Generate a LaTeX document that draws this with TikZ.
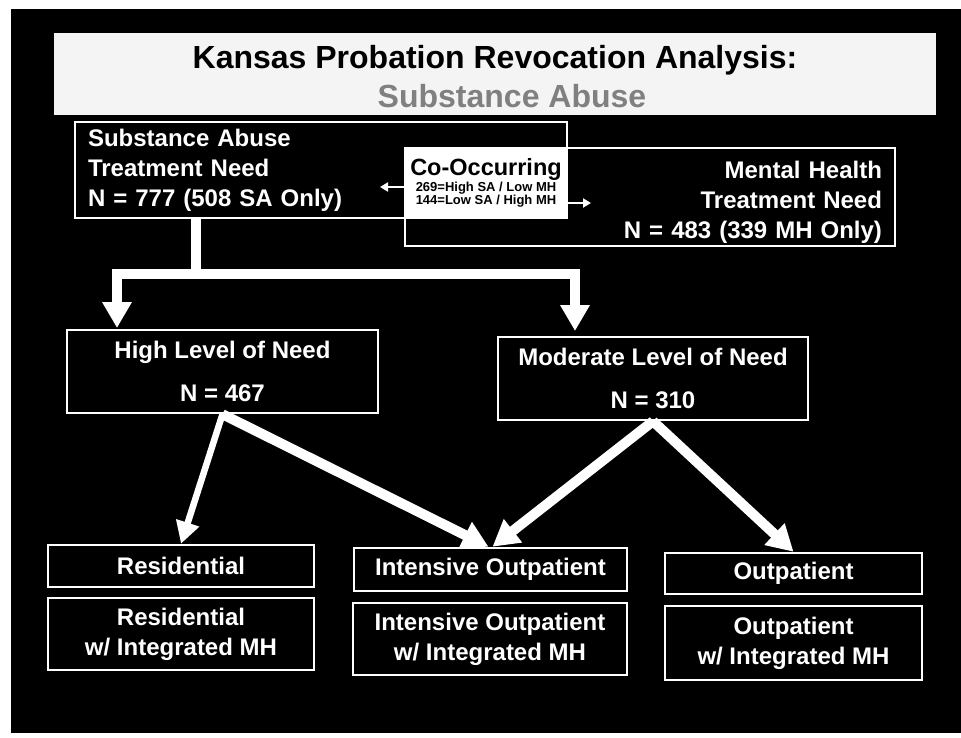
\documentclass[tikz,border=0pt]{standalone}
\usepackage{fontspec}
\setmainfont{Liberation Sans}
\usepackage{xcolor}
\usetikzlibrary{arrows.meta}

\definecolor{titlebg}{RGB}{244,244,244}
\definecolor{subgray}{RGB}{128,128,128}

\begin{document}
\begin{tikzpicture}[
            x = 1pt, y = -1pt, % pixel units, y going down
            > = {Triangle[width=28pt,length=26pt]}, % arrow head style
            box/.style = {draw=white, line width=2.5pt, text=white, inner sep=0pt,
                font=\fontsize{24}{30}\selectfont\bfseries},
            fat/.style = {draw=white, line width=10pt},
            slim/.style = {draw=white, line width=6.5pt},
            tiny/.style = {draw=white, line width=2.5pt}
        ]
\fill[white] (0,0) rectangle (961,738);
\fill[black] (11,9) rectangle (961,733);

% title
\node[fill=titlebg, minimum width=882pt, minimum height=82pt, inner sep=0pt] (bar) at (495,74) {};
\node[anchor=base, font=\fontsize{32}{36}\selectfont\bfseries] (title) at (495,69) {Kansas Probation Revocation Analysis:};
\node[anchor=base, text=subgray, font=\fontsize{32}{36}\selectfont\bfseries] (subtitle) at (512,108) {Substance Abuse};

% need boxes
\node[box, text width=466pt, inner xsep=13pt, minimum height=96pt, align=left] (SA) at (321,170) {Substance Abuse\\Treatment Need\\N = 777 (508 SA Only)};
\node[box, text width=464pt, inner xsep=13pt, minimum height=98pt, align=right] (MH) at (650,197) {\rule{0pt}{27pt}Mental Health\\Treatment Need\\N = 483 (339 MH Only)};
\node[fill=white, minimum width=162pt, minimum height=70pt, inner sep=0pt, align=center, font=\bfseries] (CO) at (486,183)
    {\fontsize{23.5}{26}\selectfont Co-Occurring\\[1pt]
     \fontsize{13}{15}\selectfont 269=High SA / Low MH\\
     \fontsize{13}{15}\selectfont 144=Low SA / High MH};

\coordinate (sa in) at (380,187);
\coordinate (mh in) at (591,203);
\draw[tiny,-{Triangle[width=9pt,length=8pt]}] (CO.west |- sa in) -- (sa in);
\draw[tiny,-{Triangle[width=9pt,length=8pt]}] (CO.east |- mh in) -- (mh in);

% level of need
\node[box, minimum width=311pt, minimum height=83pt, align=center] (HI) at (222.5,371.5) {High Level of Need\\[13pt]N = 467};
\node[box, minimum width=310pt, minimum height=83pt, align=center] (MOD) at (653,378.5) {Moderate Level of Need\\[13pt]N = 310};

% treatment
\node[box, minimum width=266pt, minimum height=42pt] (RES) at (181,566) {Residential};
\node[box, minimum width=266pt, minimum height=72pt, align=center] (RESMH) at (181,634) {Residential\\w/ Integrated MH};
\node[box, minimum width=273pt, minimum height=43pt] (IOP) at (490.5,569.5) {Intensive Outpatient};
\node[box, minimum width=274pt, minimum height=72pt, align=center] (IOPMH) at (490,639) {Intensive Outpatient\\w/ Integrated MH};
\node[box, minimum width=257pt, minimum height=41pt] (OP) at (793.5,573.5) {Outpatient};
\node[box, minimum width=257pt, minimum height=74pt, align=center] (OPMH) at (793.5,643) {Outpatient\\w/ Integrated MH};

% split of the SA need
\coordinate (split) at (196,274);
\coordinate (hi in) at (117,328);
\coordinate (mod in) at (575,331);
\draw[fat] (SA.south -| split) -- (split);
\draw[fat,->] (split) -| (hi in);
\draw[fat,->] (split) -| (mod in);

 \path (HI.south) edge[slim,-{Triangle[width=23pt,length=22pt]}] (RES.north);
 \path [->] (HI.south) edge[fat] ([xshift=-2pt]IOP.north);
 \path [->] (MOD.south) edge[fat] ([xshift=2pt]IOP.north);
 \path [->] (MOD.south) edge[fat] (OP.north);

\end{tikzpicture}
\end{document}
